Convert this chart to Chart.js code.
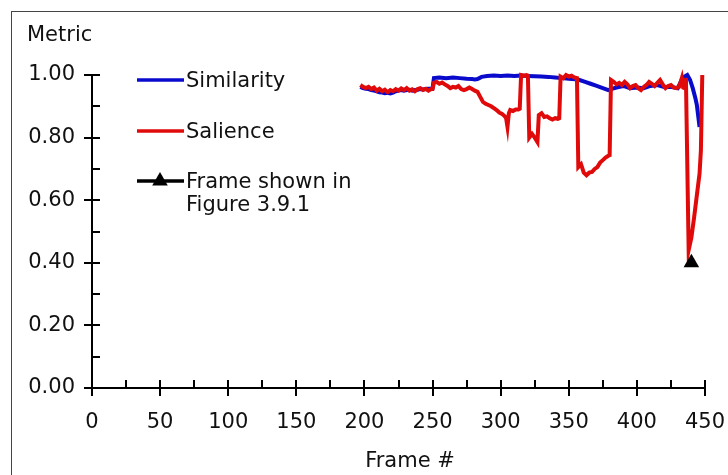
<!DOCTYPE html>
<html lang="en">
<head>
    <meta charset="UTF-8">
    <title>Metric per frame</title>
    <style>
        body { margin: 0; background: #fff; }
        #chart { width: 728px; height: 475px; }
    </style>
</head>
<body>
    <div id="chart"><canvas id="c" width="728" height="475"></canvas></div>
<script src="https://cdn.jsdelivr.net/npm/chart.js@4/dist/chart.umd.min.js"></script>
<script>
    // frame numbers and values
    const simFrames = [197, 199, 201, 203, 205, 207, 209, 211, 213, 215, 217, 219, 221, 223, 225, 227, 229, 231, 233, 235, 237, 239, 241, 243, 245, 247, 249, 250,
        251, 255, 260, 265, 270, 275, 279, 281, 283, 286, 290, 295, 300, 305, 310, 315, 320, 325, 330, 335, 340, 345, 350, 355, 358, 362, 366, 370, 374, 379,
        381, 385, 390, 395, 400, 405, 410, 415, 420, 425, 430, 433, 435, 437, 439, 441, 443, 444, 446];
    const simValues = [0.962, 0.958, 0.956, 0.955, 0.952, 0.950, 0.948, 0.945, 0.944, 0.942, 0.943, 0.941, 0.944, 0.948, 0.950, 0.952, 0.950, 0.952, 0.953, 0.950, 0.952, 0.953, 0.955, 0.954, 0.955, 0.956, 0.957, 0.958,
        0.990, 0.992, 0.990, 0.992, 0.990, 0.988, 0.987, 0.986, 0.987, 0.994, 0.997, 0.998, 0.997, 0.998, 0.997, 0.998, 0.997, 0.996, 0.995, 0.994, 0.992, 0.990, 0.988, 0.986, 0.984, 0.978, 0.972, 0.966, 0.960, 0.952,
        0.955, 0.960, 0.965, 0.958, 0.960, 0.958, 0.965, 0.968, 0.962, 0.962, 0.958, 0.985, 0.995, 1.000, 0.985, 0.958, 0.925, 0.905, 0.834];

    const salFrames = [197, 199, 201, 203, 205, 207, 209, 211, 213, 215, 217, 219, 221, 223, 225, 227, 229, 231, 233, 235, 237, 239, 241, 243, 245, 247, 249, 250,
        251, 253, 255, 257, 259, 261, 263, 265, 267, 269, 271, 273, 275, 277, 279, 281, 283, 285, 287, 289, 291, 293, 295, 297, 299, 301, 303, 304, 305, 306, 307, 309, 311, 313, 314,
        315, 317, 319, 320, 321, 323, 325, 327, 328, 330, 332, 334, 336, 338, 340, 342, 343,
        344, 346, 348, 350, 352, 354, 356, 357, 359, 361, 363, 365, 367, 369, 371, 373, 375, 377, 379, 380,
        381, 383, 385, 387, 389, 391, 393, 395, 397, 399, 401, 403, 405, 407, 409, 411, 413, 415, 417, 419, 421, 423, 425, 427, 429, 431, 433, 434, 435, 436,
        438, 440, 442, 444, 446, 447, 448];
    const salValues = [0.968, 0.962, 0.958, 0.962, 0.955, 0.960, 0.950, 0.956, 0.948, 0.953, 0.945, 0.952, 0.948, 0.955, 0.950, 0.957, 0.952, 0.958, 0.950, 0.954, 0.948, 0.955, 0.958, 0.952, 0.956, 0.950, 0.955, 0.955,
        0.975, 0.978, 0.972, 0.976, 0.970, 0.965, 0.958, 0.962, 0.960, 0.965, 0.955, 0.952, 0.955, 0.960, 0.955, 0.950, 0.946, 0.930, 0.914, 0.908, 0.904, 0.900, 0.894, 0.888, 0.880, 0.876, 0.868, 0.862, 0.834, 0.878, 0.888, 0.885, 0.890, 0.890, 0.892,
        1.000, 0.998, 1.000, 0.998, 0.800, 0.812, 0.800, 0.786, 0.872, 0.878, 0.866, 0.868, 0.862, 0.858, 0.862, 0.860, 0.862,
        0.995, 0.990, 1.000, 0.995, 0.998, 0.992, 0.990, 0.706, 0.715, 0.688, 0.680, 0.688, 0.690, 0.700, 0.706, 0.720, 0.728, 0.736, 0.742, 0.744,
        0.984, 0.978, 0.970, 0.975, 0.968, 0.978, 0.970, 0.958, 0.965, 0.968, 0.958, 0.952, 0.962, 0.968, 0.978, 0.972, 0.965, 0.975, 0.984, 0.970, 0.958, 0.965, 0.968, 0.960, 0.958, 0.962, 0.990, 0.960, 0.958, 0.990,
        0.440, 0.480, 0.545, 0.615, 0.685, 0.760, 1.000];

    const shownFrames = [440];
    const shownValues = [0.40];

    const xTicks = [0, 50, 100, 150, 200, 250, 300, 350, 400, 450];
    const yTicks = [0, 0.2, 0.4, 0.6, 0.8, 1.0];
    const legendLabels = ['Similarity', 'Salience', ['Frame shown in', 'Figure 3.9.1']];

    const RED = '#e00a0a';
    const BLUE = '#0a0acc';
    const FONT = '"DejaVu Sans", Verdana, sans-serif';
    const FSIZE = 21;

    const toPoints = (xs, ys) => xs.map((x, i) => ({ x: x, y: ys[i] }));

    // frame, minor/crossing ticks, axis titles and legend
    const decor = {
        id: 'decor',
        beforeDraw(chart) {
            const ctx = chart.ctx;
            ctx.save();
            ctx.strokeStyle = '#444';
            ctx.lineWidth = 1;
            ctx.strokeRect(11.5, 11.5, 900, 700);
            ctx.restore();
        },
        afterDraw(chart) {
            const ctx = chart.ctx;
            const xs = chart.scales.x, ys = chart.scales.y;
            const x0 = xs.getPixelForValue(0), y0 = ys.getPixelForValue(0);
            ctx.save();
            ctx.strokeStyle = '#000';
            ctx.lineWidth = 2;
            ctx.beginPath();
            for (let v = 0; v <= 1.0001; v += 0.1) {
                const y = Math.round(ys.getPixelForValue(v));
                const major = Math.round(v * 10) % 2 === 0;
                ctx.moveTo(major ? x0 - 8 : x0, y);
                ctx.lineTo(x0 + 8, y);
            }
            for (let f = 0; f <= 450; f += 25) {
                const x = Math.round(xs.getPixelForValue(f));
                const major = f % 50 === 0;
                ctx.moveTo(x, y0 - 8);
                ctx.lineTo(x, major ? y0 + 8 : y0);
            }
            ctx.stroke();

            ctx.fillStyle = '#111';
            ctx.font = FSIZE + 'px ' + FONT;
            ctx.textAlign = 'left';
            ctx.textBaseline = 'middle';
            ctx.fillText('Metric', 27, 36);

            ctx.textAlign = 'center';
            ctx.fillText('Frame #', 410, 462);
            ctx.textAlign = 'left';

            // legend
            const lx1 = 137, lx2 = 184, tx = 186;
            const rows = [
                { y: 80, color: BLUE, tri: false },
                { y: 131, color: RED, tri: false },
                { y: 181, color: '#000', tri: true }
            ];
            rows.forEach((r, i) => {
                ctx.strokeStyle = r.color;
                ctx.lineWidth = 3.5;
                ctx.beginPath();
                ctx.moveTo(lx1, r.y);
                ctx.lineTo(lx2, r.y);
                ctx.stroke();
                if (r.tri) {
                    const cx = 160, cy = r.y, rad = 9;
                    ctx.fillStyle = '#000';
                    ctx.beginPath();
                    ctx.moveTo(cx, cy - rad);
                    ctx.lineTo(cx + rad * 0.866, cy + rad * 0.5);
                    ctx.lineTo(cx - rad * 0.866, cy + rad * 0.5);
                    ctx.closePath();
                    ctx.fill();
                }
                ctx.fillStyle = '#111';
                const lab = legendLabels[i];
                if (Array.isArray(lab)) {
                    lab.forEach((t, k) => ctx.fillText(t, tx, r.y + 2 + k * 23));
                } else {
                    ctx.fillText(lab, tx, r.y + 2);
                }
            });
            ctx.restore();
        }
    };

    new Chart(document.getElementById('c'), {
        type: 'scatter',
        data: {
            datasets: [
                {
                    label: 'Frame shown in Figure 3.9.1',
                    data: toPoints(shownFrames, shownValues),
                    pointStyle: 'triangle',
                    pointRadius: 9,
                    backgroundColor: '#000',
                    borderColor: '#000',
                    borderWidth: 0,
                    showLine: false,
                    clip: false
                },
                {
                    label: 'Salience',
                    data: toPoints(salFrames, salValues),
                    showLine: true,
                    borderColor: RED,
                    borderWidth: 4,
                    pointRadius: 0,
                    tension: 0,
                    clip: false
                },
                {
                    label: 'Similarity',
                    data: toPoints(simFrames, simValues),
                    showLine: true,
                    borderColor: BLUE,
                    borderWidth: 4,
                    pointRadius: 0,
                    tension: 0,
                    clip: false
                }
            ]
        },
        options: {
            responsive: false,
            animation: false,
            devicePixelRatio: 1,
            layout: { padding: { left: 0, top: 75, right: 23, bottom: 0 } },
            plugins: {
                legend: { display: false },
                tooltip: { enabled: false }
            },
            scales: {
                x: {
                    type: 'linear',
                    min: 0,
                    max: 450,
                    afterFit: (s) => { s.height = 87; s.paddingLeft = 0; s.paddingRight = 0; },
                    afterBuildTicks: (s) => { s.ticks = xTicks.map(v => ({ value: v })); },
                    grid: { display: false, drawTicks: false },
                    border: { display: true, color: '#000', width: 2 },
                    ticks: {
                        padding: 22,
                        maxRotation: 0,
                        color: '#111',
                        font: { family: FONT, size: FSIZE }
                    }
                },
                y: {
                    min: 0,
                    max: 1,
                    afterFit: (s) => { s.width = 92; s.paddingTop = 0; s.paddingBottom = 0; },
                    afterBuildTicks: (s) => { s.ticks = yTicks.map(v => ({ value: v })); },
                    grid: { display: false, drawTicks: false },
                    border: { display: true, color: '#000', width: 2 },
                    ticks: {
                        padding: 17,
                        color: '#111',
                        font: { family: FONT, size: FSIZE },
                        callback: (v) => v.toFixed(2)
                    }
                }
            }
        },
        plugins: [decor]
    });
</script>
</body>
</html>
